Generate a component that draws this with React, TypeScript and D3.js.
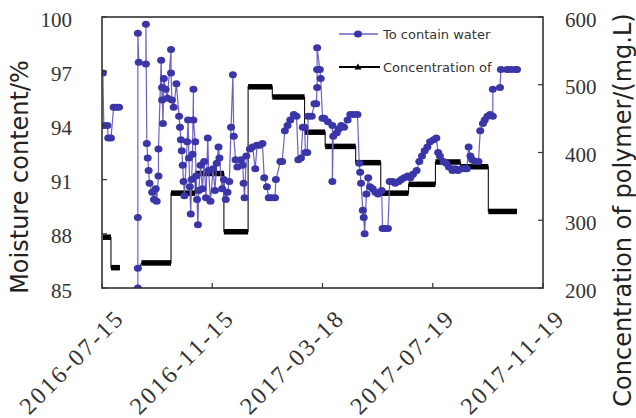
import React from "react";
import * as d3 from "d3";

const xTickLabels = ["2016-07-15", "2016-11-15", "2017-03-18", "2017-07-19", "2017-11-19"];
const leftTicks = [85, 88, 91, 94, 97, 100];
const rightTicks = [200, 300, 400, 500, 600];

const seriesNames = ["To contain water", "Concentration of"];
const leftTitle = "Moisture content/%";
const rightTitle = "Concentration of polymer/(mg.L)";

// Moisture content (%); null marks a break in the record
const waterDates = [
  "2016-07-16", "2016-07-17", "2016-07-21", "2016-07-22", "2016-07-25", "2016-07-28", "2016-07-31", "2016-08-03",
  "2016-08-14",
  "2016-08-24", "2016-08-24", "2016-08-24", "2016-08-24", "2016-08-25", "2016-09-02", "2016-09-02", "2016-09-03",
  "2016-09-04", "2016-09-05", "2016-09-06", "2016-09-09", "2016-09-11", "2016-09-13", "2016-09-14", "2016-09-16",
  "2016-09-16", "2016-09-19", "2016-09-20", "2016-09-20", "2016-09-21", "2016-09-22", "2016-09-24", "2016-09-26",
  "2016-09-30", "2016-09-30", "2016-10-01", "2016-10-03", "2016-10-06", "2016-10-09", "2016-10-10", "2016-10-11",
  "2016-10-12", "2016-10-13", "2016-10-14", "2016-10-15", "2016-10-18", "2016-10-19", "2016-10-20", "2016-10-21",
  "2016-10-22", "2016-10-23", "2016-10-24", "2016-10-25", "2016-10-25", "2016-10-27", "2016-10-28", "2016-10-29",
  "2016-10-30", "2016-10-31", "2016-11-02", "2016-11-04", "2016-11-06", "2016-11-08", "2016-11-10", "2016-11-11",
  "2016-11-13", "2016-11-16", "2016-11-18", "2016-11-20", "2016-11-22", "2016-11-23", "2016-11-26", "2016-11-28",
  "2016-11-30", "2016-12-02", "2016-12-04", "2016-12-06", "2016-12-08", "2016-12-09", "2016-12-11", "2016-12-13",
  "2016-12-17", "2016-12-19", "2016-12-20", "2016-12-21", "2016-12-23", "2016-12-27", "2016-12-30", "2017-01-02",
  "2017-01-04", "2017-01-07", "2017-01-10", "2017-01-12", "2017-01-15", "2017-01-17", "2017-01-20", "2017-01-24",
  "2017-01-25", "2017-01-30", "2017-02-01", "2017-02-04", "2017-02-07", "2017-02-10", "2017-02-14", "2017-02-17",
  "2017-02-19", "2017-02-22", "2017-02-24", "2017-02-26", "2017-02-27", "2017-03-01", "2017-03-02", "2017-03-06",
  "2017-03-09", "2017-03-11", "2017-03-12", "2017-03-12", "2017-03-12", "2017-03-15", "2017-03-16", "2017-03-18",
  "2017-03-20", "2017-03-24", "2017-03-29", "2017-03-29", "2017-03-30", "2017-04-03", "2017-04-05", "2017-04-08",
  "2017-04-11", "2017-04-15", "2017-04-18", "2017-04-22", "2017-04-26", "2017-04-28", "2017-04-29", "2017-04-30",
  "2017-05-02", "2017-05-03", "2017-05-04", "2017-05-06", "2017-05-08", "2017-05-10", "2017-05-13", "2017-05-16",
  "2017-05-19", "2017-05-23", "2017-05-24", "2017-05-27", "2017-05-30", "2017-06-01", "2017-06-04", "2017-06-07",
  "2017-06-11", "2017-06-14", "2017-06-17", "2017-06-21", "2017-06-24", "2017-06-27", "2017-07-01", "2017-07-04",
  "2017-07-07", "2017-07-10", "2017-07-13", "2017-07-16", "2017-07-20", "2017-07-23", "2017-07-25", "2017-07-27",
  "2017-07-31", "2017-08-03", "2017-08-06", "2017-08-10", "2017-08-13", "2017-08-16", "2017-08-20", "2017-08-23",
  "2017-08-26", "2017-08-28", "2017-08-30", "2017-09-01", "2017-09-04", "2017-09-08", "2017-09-10", "2017-09-13",
  "2017-09-15", "2017-09-18", "2017-09-21", "2017-09-24", "2017-09-24", "2017-10-02", "2017-10-03", "2017-10-10",
  "2017-10-14", "2017-10-19", "2017-10-21",
];
const waterValues: (number | null)[] = [
  96.9, 94.0, 94.0, 93.3, 93.3, 95.0, 95.0, 95.0,
  null,
  85.0, 86.1, 88.9, 99.1, 97.5, 97.4, 99.6, 93.0,
  92.2, 91.5, 90.8, 90.3, 89.9, 90.5, 89.8, 91.2,
  92.7, 97.6, 95.4, 96.1, 94.1, 96.6, 96.0, 95.5,
  98.2, 96.9, 95.4, 95.0, 96.3, 94.5, 93.9, 93.2,
  92.6, 91.8, 90.9, 90.1, 93.1, 94.3, 92.2, 90.6,
  89.1, 91.0, 92.4, 96.0, 94.3, 93.1, 91.2, 89.9,
  88.5, 90.4, 91.8, 90.5, 92.0, 90.0, 93.3, 91.5,
  89.8, 91.6, 90.4, 91.9, 92.8, 92.2, 90.5, 91.0,
  89.9, 90.3, 90.9, 93.9, 96.8, 93.4, 92.1, 91.7,
  92.1, 91.8, 90.8, 90.0, 92.3, 92.7, 92.8, 91.6,
  92.9, 92.9, 93.0, 91.1, 90.6, 90.0, 90.0, 90.0,
  91.0, 92.0, 92.0, 93.7, 94.0, 94.3, 94.6, 94.5,
  92.1, 92.2, 93.9, 93.9, 92.5, 92.5, 94.5, 94.5,
  95.2, 95.2, 96.1, 97.1, 98.3, 97.1, 96.6, 94.4,
  94.4, 94.2, 94.0, 90.9, 93.4, 93.6, 93.8, 94.0,
  93.9, 94.3, 94.6, 94.6, 94.6, 91.9, 91.4, 90.8,
  89.3, 88.9, 88.0, 90.2, 91.1, 90.6, 90.5, 90.3,
  90.2, 90.4, 88.3, 88.3, 88.3, 90.9, 90.9, 90.8,
  90.9, 91.0, 91.1, 91.2, 91.1, 91.3, 91.5, 92.0,
  92.3, 92.6, 92.8, 93.1, 93.2, 93.3, 92.5, 92.3,
  92.0, 91.9, 91.7, 91.5, 91.6, 91.5, 91.6, 91.6,
  91.6, 92.8, 92.3, 92.1, 92.0, 92.0, 93.7, 94.1,
  94.3, 94.5, 94.6, 94.5, 96.0, 96.1, 97.1, 97.1,
  97.1, 97.1, 97.1,
];

// Polymer concentration (mg/L): constant dosing periods
const concStart = [
  "2016-07-16", "2016-07-25", "2016-08-24", "2016-08-28", "2016-09-30", "2016-10-27", "2016-11-28", "2016-12-25",
  "2017-01-21", "2017-02-26", "2017-03-21", "2017-04-24", "2017-05-22", "2017-06-22", "2017-07-22", "2017-08-19",
  "2017-09-19",
];
const concEnd = [
  "2016-07-25", "2016-08-04", "2016-08-26", "2016-09-30", "2016-10-27", "2016-11-28", "2016-12-25", "2017-01-21",
  "2017-02-26", "2017-03-21", "2017-04-24", "2017-05-22", "2017-06-22", "2017-07-22", "2017-08-19", "2017-09-19",
  "2017-10-21",
];
const concValues = [275, 230, 230, 237, 340, 369, 283, 497, 482, 430, 409, 385, 340, 353, 386, 379, 313];

const BLUE_LINE = "#6e5fc6";
const BLUE_DOT = "#3a36a8";

export default function App() {
  const W = 636;
  const H = 418;
  const L = 102, R = 543, T = 17, B = 288;
  const parse = d3.timeParse("%Y-%m-%d");
  const tickDates = xTickLabels.map((s) => parse(s) as Date);
  const x = d3.scaleTime().domain([tickDates[0], tickDates[tickDates.length - 1]]).range([L, R]);
  const yL = d3.scaleLinear().domain([85, 100]).range([B, T]);
  const yR = d3.scaleLinear().domain([200, 600]).range([B, T]);

  const water = waterDates.map((d, i) => ({ date: parse(d) as Date, v: waterValues[i] }));
  const waterLine = d3
    .line<{ date: Date; v: number | null }>()
    .defined((d) => d.v != null)
    .x((d) => x(d.date))
    .y((d) => yL(d.v as number));

  const concPts: { date: Date; v: number | null }[] = [];
  concValues.forEach((v, i) => {
    const s = parse(concStart[i]) as Date;
    const e = parse(concEnd[i]) as Date;
    if (i > 0) {
      const prevEnd = parse(concEnd[i - 1]) as Date;
      const gap = (s.getTime() - prevEnd.getTime()) / 86400000;
      if (gap > 5) concPts.push({ date: s, v: null });
    }
    concPts.push({ date: s, v });
    concPts.push({ date: e, v });
  });
  const concLine = d3
    .line<{ date: Date; v: number | null }>()
    .defined((d) => d.v != null)
    .x((d) => x(d.date))
    .y((d) => yR(d.v as number));

  const serif = "'Liberation Serif', 'Times New Roman', serif";
  const sans = "'DejaVu Sans', Verdana, sans-serif";
  const axisColor = "#333";

  return (
    <svg width={W} height={H} style={{ position: "absolute", left: 0, top: 0, background: "#fff" }}>
      <defs>
        <clipPath id="plotClip">
          <rect x={L} y={T} width={R - L} height={B - T} />
        </clipPath>
      </defs>
      <rect x={0} y={0} width={W} height={H} fill="#fff" />

      <g clipPath="url(#plotClip)">
        <path d={concLine(concPts) || ""} fill="none" stroke="#111" strokeWidth={1.1} />
        {concValues.map((v, i) => (
          <line
            key={"c" + i}
            x1={x(parse(concStart[i]) as Date)}
            x2={x(parse(concEnd[i]) as Date)}
            y1={yR(v)}
            y2={yR(v)}
            stroke="#000"
            strokeWidth={5.5}
          />
        ))}
        <path d={waterLine(water) || ""} fill="none" stroke={BLUE_LINE} strokeWidth={1.2} />
        {water
          .filter((d) => d.v != null)
          .map((d, i) => (
            <ellipse key={"w" + i} cx={x(d.date)} cy={yL(d.v as number)} rx={4} ry={3.5} fill={BLUE_DOT} />
          ))}
      </g>

      <rect x={L} y={T} width={R - L} height={B - T} fill="none" stroke={axisColor} strokeWidth={1.6} />

      {leftTicks.map((t) => (
        <g key={"l" + t}>
          <line x1={L} x2={L + 5} y1={yL(t)} y2={yL(t)} stroke={axisColor} strokeWidth={1.2} />
          <text x={72} y={yL(t) + 9.5} textAnchor="end" fontFamily={serif} fontSize={21} fill="#333">
            {t}
          </text>
        </g>
      ))}
      {rightTicks.map((t) => (
        <g key={"r" + t}>
          <line x1={R - 5} x2={R} y1={yR(t)} y2={yR(t)} stroke={axisColor} strokeWidth={1.2} />
          <text x={565} y={yR(t) + 9.5} textAnchor="start" fontFamily={serif} fontSize={21} fill="#333">
            {t}
          </text>
        </g>
      ))}
      {tickDates.map((d, i) => (
        <g key={"x" + i}>
          <line x1={x(d)} x2={x(d)} y1={B} y2={B - 5} stroke={axisColor} strokeWidth={1.2} />
          <text
            transform={`translate(${x(d) + 22},${B + 33}) rotate(-45)`}
            textAnchor="end"
            fontFamily={serif}
            fontSize={24}
            fill="#333"
            textLength={134}
            lengthAdjust="spacing"
          >
            {xTickLabels[i]}
          </text>
        </g>
      ))}

      <text
        transform={`translate(28,177) rotate(-90)`}
        textAnchor="middle"
        fontFamily={sans}
        fontSize={24}
        fill="#222"
      >
        {leftTitle}
      </text>
      <text
        transform={`translate(631,210) rotate(-90)`}
        textAnchor="middle"
        fontFamily={sans}
        fontSize={24}
        fill="#222"
      >
        {rightTitle}
      </text>

      <g>
        <line x1={339} x2={378} y1={34} y2={34} stroke={BLUE_LINE} strokeWidth={1.5} />
        <ellipse cx={358} cy={34} rx={4} ry={3.5} fill={BLUE_DOT} />
        <text x={383} y={38.5} fontFamily={sans} fontSize={13} fill="#333">
          {seriesNames[0]}
        </text>
        <line x1={339} x2={380} y1={67} y2={67} stroke="#000" strokeWidth={2} />
        <path d="M358,63.5 L361.5,69.5 L354.5,69.5 Z" fill="#000" />
        <text x={383} y={71.5} fontFamily={sans} fontSize={13} fill="#333">
          {seriesNames[1]}
        </text>
      </g>
    </svg>
  );
}
